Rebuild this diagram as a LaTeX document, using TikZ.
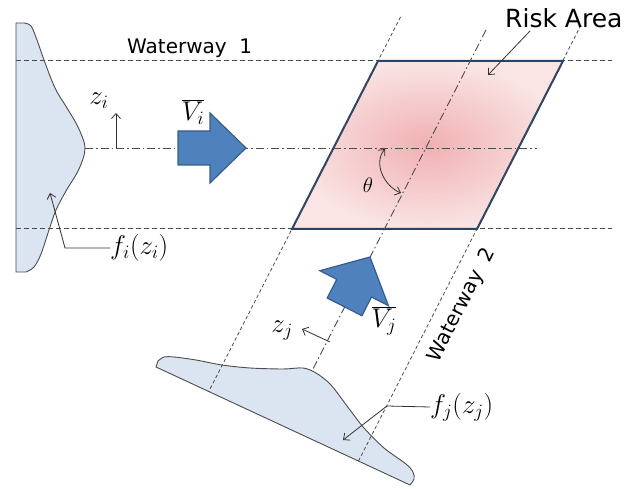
\RequirePackage{fix-cm}
\documentclass[tikz,border=0pt]{standalone}
\usepackage{fontspec}
\setsansfont{DejaVu Sans}
\usetikzlibrary{arrows.meta,positioning}
\definecolor{distfill}{RGB}{219,229,241}
\definecolor{arrowfill}{RGB}{79,129,189}
\definecolor{arrowedge}{RGB}{56,93,138}
\definecolor{riskedge}{RGB}{40,66,104}
\definecolor{riskin}{RGB}{240,176,178}
\definecolor{riskout}{RGB}{250,228,228}
\begin{document}
\begin{tikzpicture}[x=1pt,y=-1pt,
  way/.style={dash pattern=on 5pt off 3pt, line width=0.9pt, black!70},
  waythin/.style={dash pattern=on 3.5pt off 2.5pt, line width=0.8pt, black!70},
  axisline/.style={dash pattern=on 8pt off 3pt on 1.5pt off 3pt, line width=0.9pt, black!70},
  distshape/.style={fill=distfill, draw=black!70, line width=0.9pt},
  blockarrow/.style={fill=arrowfill, draw=arrowedge, line width=1.2pt, line join=miter},
  pointer/.style={-{Straight Barb[length=5pt,width=9pt]}, line width=0.8pt, black!80},
  lbl/.style={font=\fontsize{27}{30}\selectfont, inner sep=0pt},
  waylbl/.style={font=\sffamily\fontsize{20}{22}\selectfont, inner sep=0pt}]
\useasboundingbox (0,0) rectangle (638,489);

% distribution f_i
\draw[distshape] (16,272) -- (16,23) -- plot[smooth,tension=0.55] coordinates
  {(24,23) (31,26) (37,40) (44,60) (55,88) (67,108) (78,127) (85,148)
   (79,169) (66,191) (56,210) (49,230) (41,254) (34,267) (26,272)} -- cycle;

% distribution f_j
\draw[distshape] (156,367) -- plot[smooth,tension=0.5] coordinates
  {(158,361) (164,357) (174,357) (196,360) (222,365) (250,368) (283,369)
   (303,368) (316,373) (331,385) (350,410) (364,428) (384,448) (406,464)
   (413,472) (414,479) (410,485)} -- cycle;

% Waterway 1
\draw[way] (16,60) -- (612,60);
\draw[way] (16,228) -- (612,228);
\node[waylbl, anchor=base west] (way1) at (127,54) {Waterway\ \ 1};

% risk area
\coordinate (rtl) at (378,61);
\coordinate (rtr) at (563,61);
\coordinate (rbr) at (477,229);
\coordinate (rbl) at (292,229);
\shadedraw[draw=riskedge, line width=2pt, inner color=riskin, outer color=riskout]
  (rtl) -- (rtr) -- (rbr) -- (rbl) -- cycle;

% centre lines
\draw[axisline] (85,148) -- (537,148);
\draw[axisline] (486,30) -- (312,371);

% Waterway 2
\draw[waythin] (400.5,17) -- (208.5,392);
\draw[waythin] (581,25) -- (358,462);
\node[waylbl, rotate=63] (way2) at (462,305) {Waterway\ \ 2};

% velocities
\begin{scope}[shift={(246,148)}]
  \draw[blockarrow] (0,0) -- (-36,-35) -- (-36,-17) -- (-68,-17) -- (-68,17)
    -- (-36,17) -- (-36,35) -- cycle;
\end{scope}
\begin{scope}[shift={(370,257)}, rotate=63]
  \draw[blockarrow] (0,0) -- (-35,-38.5) -- (-35,-19.5) -- (-56,-19.5) -- (-56,19.5)
    -- (-35,19.5) -- (-35,38.5) -- cycle;
\end{scope}
\node[lbl] (vi) at (193,112) {$\overline{V_i}$};
\node[lbl] (vj) at (384,321) {$\overline{V_j}$};

% z axes
\node[lbl] (zi) at (99,101) {$z_i$};
\coordinate (zi0) at (116,148);
\coordinate (zi1) at (116,113);
\draw[pointer] (zi0) -- (zi1);
\node[lbl] (zj) at (282,331) {$z_j$};
\coordinate (zj0) at (330,342);
\coordinate (zj1) at (302,329);
\draw[pointer] (zj0) -- (zj1);

% angle
\coordinate (th0) at (385,149);
\coordinate (th1) at (401,193);
\draw[{Straight Barb[length=5pt,width=9pt]}-{Straight Barb[length=5pt,width=9pt]}, line width=0.8pt, black!80]
  (th0) .. controls (373,163) and (384,186) .. (th1);
\node[font=\fontsize{21}{24}\selectfont, inner sep=0pt] (theta) at (368,185) {$\theta$};

% labels with pointers
\node[font=\sffamily\fontsize{25}{28}\selectfont, inner sep=0pt, anchor=base west] (risk) at (505,28) {Risk Area};
\coordinate (risk0) at (530,31);
\coordinate (risk1) at (488,75);
\draw[pointer] (risk0) -- (risk1);

\node[lbl, anchor=west] (fi) at (110,248) {$f_i(z_i)$};
\coordinate (fi0) at (65,248);
\coordinate (fi1) at (50,193);
\draw[pointer] (fi.west) -- (fi0) -- (fi1);

\node[lbl, anchor=west] (fj) at (430,407) {$f_j(z_j)$};
\coordinate (fj0) at (387,406);
\coordinate (fj1) at (343,440);
\draw[pointer] (fj.west) -- (fj0) -- (fj1);
\end{tikzpicture}
\end{document}
